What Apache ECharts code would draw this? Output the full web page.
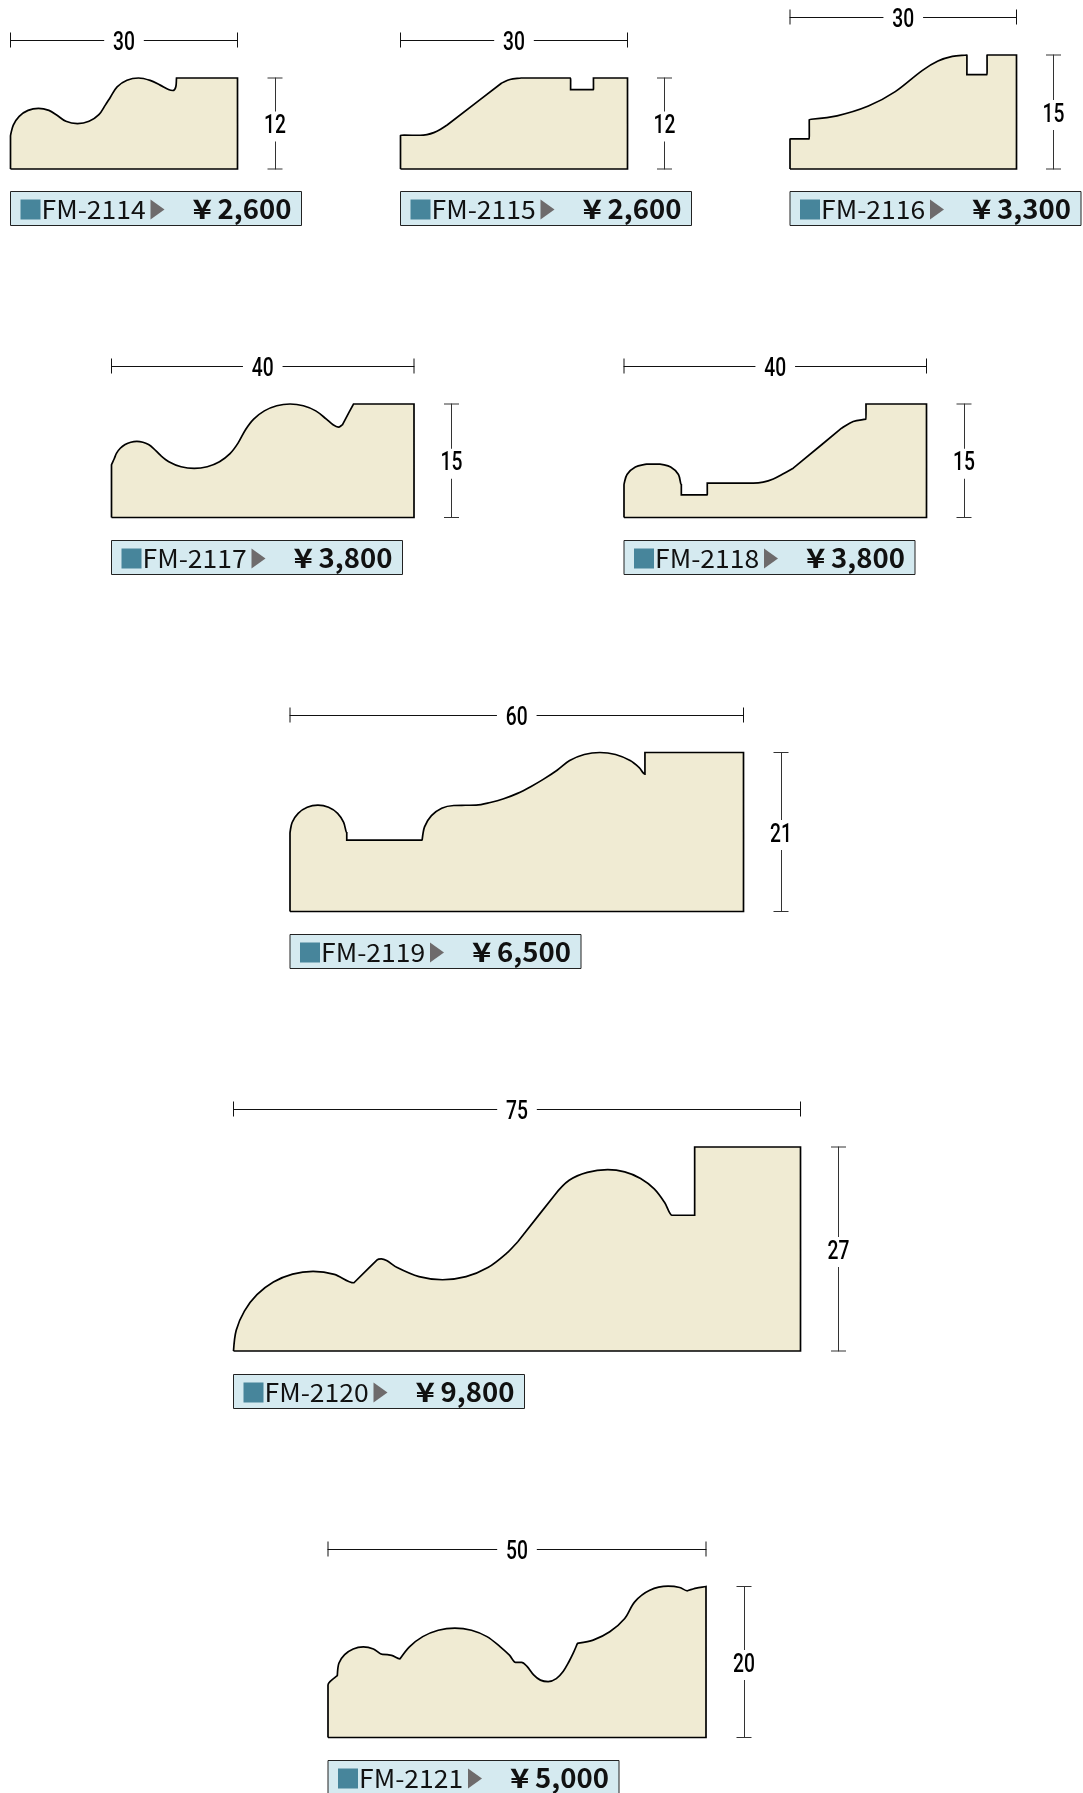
<!DOCTYPE html>
<html><head><meta charset="utf-8">
<script src="https://cdn.jsdelivr.net/npm/echarts@6/dist/echarts.min.js"></script>
<style>html,body{margin:0;padding:0;background:#fff}#c{width:1083px;height:1793px}</style>
</head><body><div id="c"></div>
<script>
// ---- data (millimetres; third element 1 = sharp corner) ----
const codes  = ['FM-2114','FM-2115','FM-2116','FM-2117','FM-2118','FM-2119','FM-2120','FM-2121'];
const prices = ['2,600','2,600','3,300','3,800','3,800','6,500','9,800','5,000'];
const widths  = [30,30,30,40,40,60,75,50];
const heights = [12,12,15,15,15,21,27,20];

const fm2114 = [[0,0,1],[0,4.4,1],[.37,5.78],[1.15,6.95],[2.32,7.73],[3.7,8],[5.08,7.73],[6.1,7.12],[7.32,6.29],[8.85,5.99],[10.38,6.29],[11.68,7.16],[12.55,8.46],[13.2,9.47],[14.09,10.83],[15.39,11.7],[16.92,12],[18.45,11.68],[19.78,11.06],[20.88,10.48],[21.45,10.35],[21.85,10.85],[21.94,12,1],[30,12,1],[30,0,1],[0,0]];
const fm2115 = [[0,0,1],[0,4.45,1],[2.6,4.45,1],[3.5,4.54],[4.4,4.8],[5.3,5.24],[6.17,5.8,1],[13.29,11.28,1],[14.47,11.8],[15.95,12,1],[22.48,12,1],[22.48,10.48,1],[25.5,10.48,1],[25.5,12,1],[30,12,1],[30,0,1],[0,0]];
const fm2116 = [[0,0,1],[0,3.96,1],[2.55,3.96,1],[2.55,6.52,1],[6.23,7.0],[10.38,8.28],[13.94,10.18],[17.5,12.95],[19.6,14.2],[21.5,14.82],[23.43,15,1],[23.43,12.42,1],[26.1,12.42,1],[26.1,15,1],[30,15,1],[30,0,1],[0,0]];
const fm2117 = [[0,0,1],[0,6.96,1],[.36,7.76],[.67,8.51],[1.16,9.15],[1.8,9.64],[2.55,9.95],[3.35,10.06],[4.15,9.95],[4.9,9.64],[5.54,9.15],[6.5,8.2],[7.58,7.38],[9.2,6.71],[10.93,6.48],[12.66,6.71],[14.28,7.38],[15.67,8.44],[16.73,9.83],[17.72,11.6],[18.8,13],[20.21,14.09],[21.85,14.77],[23.61,15],[25.37,14.77],[27.01,14.09],[28.42,13],[29.3,12.25],[30,11.94],[30.53,12.25,1],[32,15,1],[40,15,1],[40,0,1],[0,0]];
const fm2118 = [[0,0,1],[0,4.32,1],[.4,5.68],[1.5,6.68],[3,7.05,1],[4.76,7.05,1],[6.17,6.68],[7.2,5.68],[7.58,4.32,1],[7.58,3,1],[11.01,3,1],[11.01,4.54,1],[17.1,4.54,1],[18.4,4.67],[19.74,5.09],[21.06,5.77],[22.38,6.52,1],[28.77,11.8,1],[30.31,12.69],[32,13,1],[32,15,1],[40,15,1],[40,0,1],[0,0]];
const fm2119 = [[0,0,1],[0,10.35,1],[.28,11.76],[1.08,12.96],[2.28,13.76],[3.69,14.04],[5.1,13.76],[6.3,12.96],[7.1,11.76],[7.51,10.4,1],[7.51,9.43,1],[17.48,9.43,1],[17.8,11.18],[18.71,12.66],[20.07,13.65],[21.67,14],[23.2,14.03],[24.63,14.05],[26.5,14.4],[28.27,14.89],[30.1,15.6],[31.9,16.52],[33.5,17.45],[35.34,18.66],[37,19.93],[38.93,20.73],[41,21],[43.07,20.73],[45,19.93],[46.2,19],[46.96,18.15,1],[46.96,21,1],[60,21,1],[60,0,1],[0,0]];
const fm2120 = [[0,0,1],[.36,2.75],[1.44,5.28],[3.1,7.45],[5.28,9.12],[7.81,10.17],[10.53,10.53],[13.34,10.15],[15.93,9.03,1],[19,12.07,1],[19.55,12.2],[20.25,11.98],[21.65,11.04],[24.54,9.84],[27.65,9.43],[30.76,9.84],[33.65,11.04],[36.14,12.94],[37.63,14.49,1],[42.49,20.66,1],[44.4,22.6],[46.8,23.65],[49.5,24],[51.75,23.7],[53.85,22.83],[55.65,21.45],[57.03,19.65],[58,17.97,1],[61,17.97,1],[61,27,1],[75,27,1],[75,0,1],[0,0]];
const fm2121 = [[0,0,1],[0,6.96,1],[.26,7.4],[1.23,8.19,1],[1.44,9.84],[2.2,10.97],[3.33,11.73],[4.67,12],[6.01,11.73],[7.22,11.01,1],[8.41,10.88],[9.52,10.42,1],[10.77,12.01],[12.53,13.36],[14.58,14.21],[16.78,14.5],[18.98,14.21],[21.03,13.36],[22.79,12.01],[24,10.9],[24.8,9.96,1],[25.6,9.96],[26.3,9.45],[27.2,8.3],[28.1,7.6],[29.12,7.4],[30.2,7.8],[31.1,8.75],[31.85,10],[32.45,11.2],[33,12.47,1],[35.07,12.9],[37.27,14],[39.25,15.77],[40.57,17.97],[42.56,19.5],[44.98,20.04],[46.52,19.87],[47.53,19.43,1],[48.72,19.78],[50,20,1],[50,0,1],[0,0]];
const profiles = [fm2114,fm2115,fm2116,fm2117,fm2118,fm2119,fm2120,fm2121];

// ---- layout (pixels) ----
//            left  right top  bottom dimY  dimX  tagTop
const boxes = [
  [10.5, 237.5,  78, 169,   40, 275, 191.5],
  [400.5,627.5,  78, 169,   40, 664.5,191.5],
  [790,  1016.5, 55, 169,   17, 1053.5,191.5],
  [111.5,414,   404, 517.5,366, 451.5,540.5],
  [624,  926.5, 404, 517.5,366, 964, 540.5],
  [290,  743.5, 752.5,911.5,715,781, 934.5],
  [233.5,800.5,1147,1351,  1109,838.5,1374.5],
  [328,  706,  1586.5,1737.5,1549,744,1760.5]
];
const TAG_W = 291, TAG_H = 34;
const INK = '#000', FILL = '#f0ebd3', TAG = '#d5eaf0', TEAL = '#47859b', TRI = '#6e6b6c';
const NUM_FONT = 'Roboto,sans-serif';
const TXT_FONT = '"Noto Sans CJK JP","Noto Sans",sans-serif';

// A sharp corner is two knots a hair apart, so the library's smoothing breaks the tangent there.
const expand = p => p.flatMap(q => q[2] ? [[q[0],q[1]],[q[0]+.02,q[1]+.02]] : [[q[0],q[1]]]);

const grid=[], xAxis=[], yAxis=[], series=[], graphic=[];
const dimLine = c => ({show:true,onZero:false,symbol:['rect','rect'],symbolSize:[15,1],lineStyle:{color:c,width:1}});
const dimLabel = (txt,x,y,pad) => ({type:'text',x,y,scaleX:.74,silent:true,z:100,style:{
  text:txt,font:'500 26px '+NUM_FONT,fill:'#000',textAlign:'center',textVerticalAlign:'middle',
  backgroundColor:'#fff',padding:pad}});
profiles.forEach((p,i)=>{
  const [l,r,t,b,dy,dx,tt]=boxes[i];
  grid.push({left:l,top:t,width:r-l,height:b-t,containLabel:false,outerBoundsMode:'none'});
  xAxis.push({type:'value',gridIndex:i,min:0,max:widths[i],position:'top',offset:t-dy,
    axisLine:dimLine('#111'),axisTick:{show:false},axisLabel:{show:false},splitLine:{show:false}});
  yAxis.push({type:'value',gridIndex:i,min:0,max:heights[i],position:'right',offset:dx-r,
    axisLine:dimLine('#333'),axisTick:{show:false},axisLabel:{show:false},splitLine:{show:false}});
  series.push({type:'line',name:codes[i],xAxisIndex:i,yAxisIndex:i,data:expand(p),smooth:1/3,
    showSymbol:false,clip:false,silent:true,animation:false,
    lineStyle:{color:INK,width:1.7,join:'miter'},areaStyle:{color:FILL,opacity:1}});
  graphic.push(dimLabel(String(widths[i]),(l+r)/2,dy+3,[1,12]));
  graphic.push(dimLabel(String(heights[i]),dx,(t+b)/2+3,[2,3]));
  graphic.push({type:'group',x:l,y:tt,silent:true,children:[
    {type:'rect',shape:{x:0,y:0,width:TAG_W,height:TAG_H},style:{fill:TAG,stroke:'#222',lineWidth:1}},
    {type:'rect',shape:{x:10,y:8,width:20,height:20},style:{fill:TEAL}},
    {type:'text',x:31,y:17.5,scaleX:1.06,style:{text:codes[i],font:'400 25px '+TXT_FONT,fill:'#111',textAlign:'left',textVerticalAlign:'middle'}},
    {type:'polygon',shape:{points:[[140,8],[154,18],[140,28]]},style:{fill:TRI}},
    {type:'text',x:182,y:17,scaleX:1.22,style:{text:'¥',font:'700 27px '+TXT_FONT,fill:'#111',textAlign:'left',textVerticalAlign:'middle'}},
    {type:'text',x:281,y:17,scaleX:1.02,style:{text:prices[i],font:'700 27px '+TXT_FONT,fill:'#111',textAlign:'right',textVerticalAlign:'middle'}}
  ]});
});

const chart = echarts.init(document.getElementById('c'),null,{renderer:'canvas'});
chart.setOption({animation:false,backgroundColor:'#fff',grid,xAxis,yAxis,series,graphic});
</script></body></html>
